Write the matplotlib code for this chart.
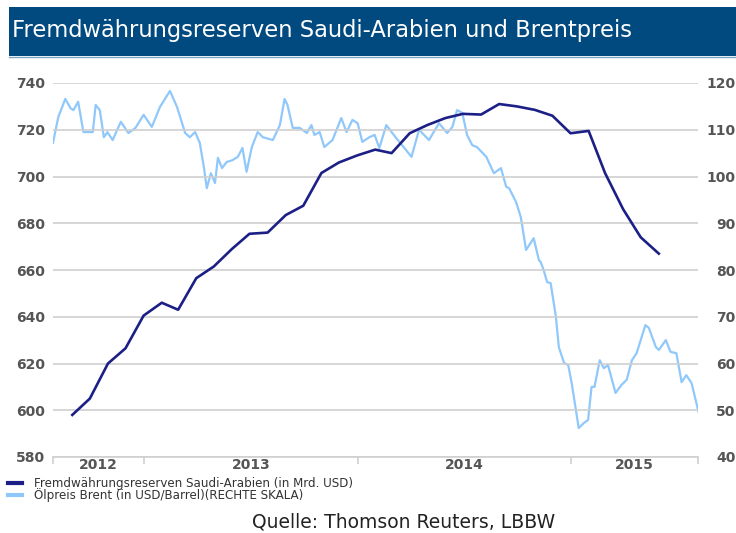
import matplotlib
matplotlib.use("Agg")
import matplotlib.pyplot as plt
import pandas as pd

# Saudi FX reserves (bn USD), end of month
reserve_months = pd.date_range("2012-08-31", "2015-05-31", freq="ME")
reserve_values = [598, 605, 620, 626.5, 640.5, 646, 643, 656.5, 661.5, 669, 675.5, 676,
                  683.5, 687.5, 701.5, 706, 709, 711.5, 710, 718.5, 722, 725, 726.8, 726.5,
                  731, 730, 728.5, 726, 718.5, 719.5, 701.5, 686, 674, 667]

# Brent (USD/barrel)
brent_dates = [
    "2012-07-29", "2012-08-07", "2012-08-19", "2012-08-28", "2012-09-02", "2012-09-10",
    "2012-09-19", "2012-09-28", "2012-10-05", "2012-10-10", "2012-10-17", "2012-10-24",
    "2012-10-30", "2012-11-08", "2012-11-22", "2012-12-05", "2012-12-17", "2012-12-31",
    "2013-01-14", "2013-01-28", "2013-02-14", "2013-02-26", "2013-03-12", "2013-03-20",
    "2013-03-29", "2013-04-06", "2013-04-13", "2013-04-18", "2013-04-25", "2013-05-02",
    "2013-05-07", "2013-05-14", "2013-05-22", "2013-06-01", "2013-06-10", "2013-06-18",
    "2013-06-25", "2013-07-04", "2013-07-14", "2013-07-23", "2013-08-09", "2013-08-21",
    "2013-08-29", "2013-09-03", "2013-09-12", "2013-09-24", "2013-10-06", "2013-10-14",
    "2013-10-19", "2013-10-28", "2013-11-05", "2013-11-19", "2013-12-04", "2013-12-13",
    "2013-12-23", "2014-01-01", "2014-01-09", "2014-01-21", "2014-01-30", "2014-02-07",
    "2014-02-19", "2014-03-08", "2014-03-18", "2014-04-03", "2014-04-16", "2014-05-03",
    "2014-05-20", "2014-06-03", "2014-06-12", "2014-06-20", "2014-06-29", "2014-07-07",
    "2014-07-16", "2014-07-24", "2014-08-09", "2014-08-22", "2014-09-03", "2014-09-12",
    "2014-09-17", "2014-09-29", "2014-10-07", "2014-10-16", "2014-10-29", "2014-11-07",
    "2014-11-10", "2014-11-15", "2014-11-21", "2014-11-27", "2014-12-06", "2014-12-11",
    "2014-12-20", "2014-12-27", "2015-01-02", "2015-01-14", "2015-01-23", "2015-01-30",
    "2015-02-05", "2015-02-10", "2015-02-19", "2015-02-26", "2015-03-05", "2015-03-18",
    "2015-03-28", "2015-04-06", "2015-04-15", "2015-04-23", "2015-05-08", "2015-05-14",
    "2015-05-26", "2015-05-31", "2015-06-12", "2015-06-20", "2015-06-30", "2015-07-09",
    "2015-07-17", "2015-07-26", "2015-08-07",
]
brent_values = [
    107.2, 112.7, 116.6, 114.6, 114.2, 116.0,
    109.5, 109.5, 109.5, 115.3, 114.2, 108.4,
    109.5, 107.8, 111.7, 109.3, 110.4, 113.2,
    110.6, 114.9, 118.3, 114.9, 109.3, 108.4,
    109.5, 107.2, 102.0, 97.5, 100.7, 98.6,
    104.0, 101.8, 103.1, 103.5, 104.2, 106.1,
    101.0, 106.3, 109.5, 108.4, 107.8, 111.0,
    116.6, 115.3, 110.4, 110.4, 109.3, 111.0,
    108.9, 109.5, 106.3, 107.8, 112.5, 109.5,
    112.1, 111.4, 107.4, 108.4, 108.9, 106.1,
    111.0, 108.2, 106.7, 104.2, 110.0, 107.8,
    111.4, 109.3, 110.6, 114.2, 113.6, 108.9,
    106.7, 106.3, 104.2, 100.7, 101.8, 97.8,
    97.5, 94.5, 91.3, 84.3, 86.8, 82.1,
    81.7, 80.0, 77.4, 77.2, 70.0, 63.5,
    60.1, 59.7, 55.8, 46.2, 47.3, 47.9,
    55.0, 55.0, 60.7, 59.0, 59.7, 53.7,
    55.4, 56.5, 60.7, 62.2, 68.2, 67.6,
    63.5, 62.9, 65.0, 62.5, 62.2, 56.0,
    57.5, 55.8, 49.6,
]

year_labels = ["2012", "2013", "2014", "2015"]
left_ticks = [580, 600, 620, 640, 660, 680, 700, 720, 740]
right_ticks = [40, 50, 60, 70, 80, 90, 100, 110, 120]

title = "Fremdwährungsreserven Saudi-Arabien und Brentpreis"
legend_labels = ["Fremdwährungsreserven Saudi-Arabien (in Mrd. USD)",
                 "Ölpreis Brent (in USD/Barrel)(RECHTE SKALA)"]
source = "Quelle: Thomson Reuters, LBBW"

NAVY = "#1c1f86"
LIGHT = "#90c8fb"
BAND = "#004a80"
TXT = "#555555"
GRID = "#cfcfcf"

fig = plt.figure(figsize=(7.36, 5.33), dpi=100)

# title band
band = fig.add_axes([9 / 736, 1 - 56 / 533, 1 - 9 / 736, 49 / 533])
band.set_facecolor(BAND)
band.set_xticks([])
band.set_yticks([])
for s in band.spines.values():
    s.set_visible(False)
fig.add_artist(plt.Line2D([9 / 736, 1], [1 - 57 / 533] * 2, color="#7fa5c0", lw=1))
fig.text(12 / 736, 1 - 37 / 533, title, color="white", fontsize=16.3,
         va="baseline", ha="left")

ax = fig.add_axes([53 / 736, 1 - 457 / 533, 645 / 736, 374 / 533])
ax2 = ax.twinx()

x_min = pd.Timestamp("2012-07-29")
x_max = pd.Timestamp("2015-08-06")

ax2.plot(pd.to_datetime(brent_dates), brent_values, color=LIGHT, lw=1.6, zorder=2)
ax.plot(reserve_months, reserve_values, color=NAVY, lw=1.9, zorder=3)
ax.set_zorder(ax2.get_zorder() + 1)
ax.patch.set_visible(False)

ax.set_xlim(x_min, x_max)
ax.set_ylim(580, 740)
ax2.set_ylim(40, 120)

ax.set_yticks(left_ticks)
ax2.set_yticks(right_ticks)
ax.grid(axis="y", color=GRID, lw=1.2)
ax.set_axisbelow(True)

for a in (ax, ax2):
    for s in a.spines.values():
        s.set_visible(False)
ax.spines["bottom"].set_visible(True)
ax.spines["bottom"].set_color(GRID)
ax.spines["bottom"].set_linewidth(1.2)

ax.tick_params(axis="y", length=0, pad=6, labelsize=10, labelcolor=TXT)
ax2.tick_params(axis="y", length=0, pad=27, labelsize=10, labelcolor=TXT)
for lbl in ax.get_yticklabels() + ax2.get_yticklabels():
    lbl.set_fontweight("bold")
for lbl in ax2.get_yticklabels():
    lbl.set_horizontalalignment("right")

# year boundary ticks and centred year labels
bounds = [x_min] + [pd.Timestamp(f"{y}-01-01") for y in (2013, 2014, 2015)] + [x_max]
ax.set_xticks(bounds)
ax.set_xticklabels([])
ax.tick_params(axis="x", length=5, color=GRID, width=1.2)
mids = [bounds[i] + (bounds[i + 1] - bounds[i]) / 2 for i in range(len(year_labels))]
ax.set_xticks(mids, minor=True)
ax.set_xticklabels(year_labels, minor=True, fontweight="bold")
ax.tick_params(axis="x", which="minor", length=0, pad=1, labelsize=10, labelcolor=TXT)

# legend
for i, (lab, col) in enumerate(zip(legend_labels, [NAVY, LIGHT])):
    y = 1 - (483 + i * 12) / 533
    fig.add_artist(plt.Line2D([8 / 736, 22 / 736], [y, y], color=col, lw=3))
    fig.text(34 / 736, y, lab, fontsize=8.6, color="#333333", va="center", ha="left")

fig.text(404 / 736, 1 - 522 / 533, source, fontsize=13.5,
         color="#222222", ha="center", va="center")

fig.savefig("out.png", dpi=100)
